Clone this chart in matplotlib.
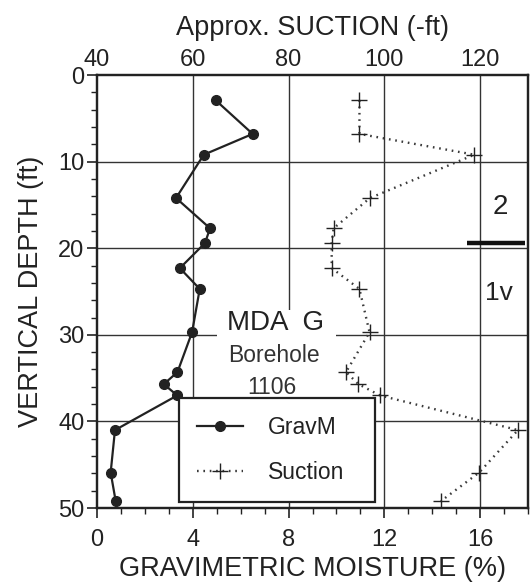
import matplotlib
matplotlib.use("Agg")
import matplotlib.pyplot as plt
from matplotlib.patches import Rectangle
from matplotlib.ticker import MultipleLocator

plt.rcParams['font.family'] = ['Liberation Sans', 'DejaVu Sans']

# depth (ft) of each sample, shared by both series
depth = [2.9, 6.8, 9.2, 14.2, 17.7, 19.4, 22.3, 24.7, 29.7, 34.3, 35.7, 37.0, 41.0, 45.9, 49.2]
# gravimetric moisture (%)
gravm = [4.95, 6.5, 4.46, 3.3, 4.72, 4.51, 3.46, 4.29, 3.97, 3.36, 2.79, 3.35, 0.75, 0.57, 0.78]
# approx. suction (-ft)
suction = [94.8, 94.8, 118.8, 97.0, 89.4, 89.0, 89.0, 94.8, 96.9, 92.0, 94.6, 99.1, 127.9, 119.8, 111.8]

fig = plt.figure(figsize=(5.31, 5.88), dpi=100)
ax = fig.add_axes([0.1827, 0.136, 0.8117, 0.7364])
ax2 = ax.twiny()

ax.set_xlim(0, 18)
ax.set_ylim(50, 0)
ax2.set_xlim(40, 130)

gc = '#333333'
for v in [4, 8, 12, 16]:
    ax.axvline(v, color=gc, lw=1.0, zorder=1)
for h in [10, 20, 30, 40]:
    ax.axhline(h, color=gc, lw=1.0, zorder=1)

# white patch behind the title block
ax.add_patch(Rectangle((5.0, 27.1), 4.96, 11.2, facecolor='white', edgecolor='none', zorder=2))

l1, = ax.plot(gravm, depth, color='#222222', lw=1.6, marker='o', ms=7, zorder=4, label='GravM')
l2, = ax2.plot(suction, depth, color='#3a3a3a', lw=1.7, ls=(0, (0.7, 2.0)), marker='+', ms=11,
               mew=1.0, mec='#222222', zorder=4, label='Suction')

ax.text(7.45, 28.6, 'MDA  G', ha='center', va='center', fontsize=20, color='#222222', zorder=3)
ax.text(7.4, 32.4, 'Borehole', ha='center', va='center', fontsize=16.5, color='#333333', zorder=3)
ax.text(7.3, 36.1, '1106', ha='center', va='center', fontsize=16.5, color='#333333', zorder=3)

ax.text(16.85, 15.2, '2', ha='center', va='center', fontsize=20, color='#222222')
ax.text(16.8, 25.2, '1v', ha='center', va='center', fontsize=19, color='#222222')
ax.plot([15.46, 17.88], [19.4, 19.4], color='#111111', lw=3.2, solid_capstyle='butt', zorder=3)

ax.set_xticks([0, 4, 8, 12, 16])
ax.xaxis.set_minor_locator(MultipleLocator(1))
ax.set_yticks([0, 10, 20, 30, 40, 50])
ax.yaxis.set_minor_locator(MultipleLocator(2))
ax.tick_params(axis='both', which='major', direction='out', length=7, width=1.2,
               labelsize=17, colors='#222222', pad=3)
ax.tick_params(axis='both', which='minor', direction='out', length=4, width=1.0, colors='#222222')
ax.tick_params(axis='x', pad=8)
ax.tick_params(axis='y', pad=2)

ax2.set_xticks([40, 60, 80, 100, 120])
ax2.tick_params(axis='x', which='major', length=0, labelsize=17, colors='#222222', pad=3)

for a in (ax, ax2):
    for s in a.spines.values():
        s.set_linewidth(1.6)
        s.set_color('#222222')

ax.set_xlabel('GRAVIMETRIC MOISTURE (%)', fontsize=19.5, color='#222222', labelpad=4)
ax.set_ylabel('VERTICAL DEPTH (ft)', fontsize=19.5, color='#222222', labelpad=10)
ax2.set_xlabel('Approx. SUCTION (-ft)', fontsize=19.5, color='#222222', labelpad=10)

leg = ax2.legend([l1, l2], ['GravM', 'Suction'], loc='lower left',
                 bbox_to_anchor=(0.19, 0.014, 0.455, 0.222), mode='expand',
                 fontsize=16.5, frameon=True, fancybox=False, framealpha=1,
                 edgecolor='#222222', handlelength=2.0, handletextpad=1.1,
                 labelspacing=0.95, borderpad=0.8, borderaxespad=0)
leg.get_frame().set_linewidth(1.6)
for t in leg.get_texts():
    t.set_color('#222222')

fig.savefig('out.png', dpi=100)
